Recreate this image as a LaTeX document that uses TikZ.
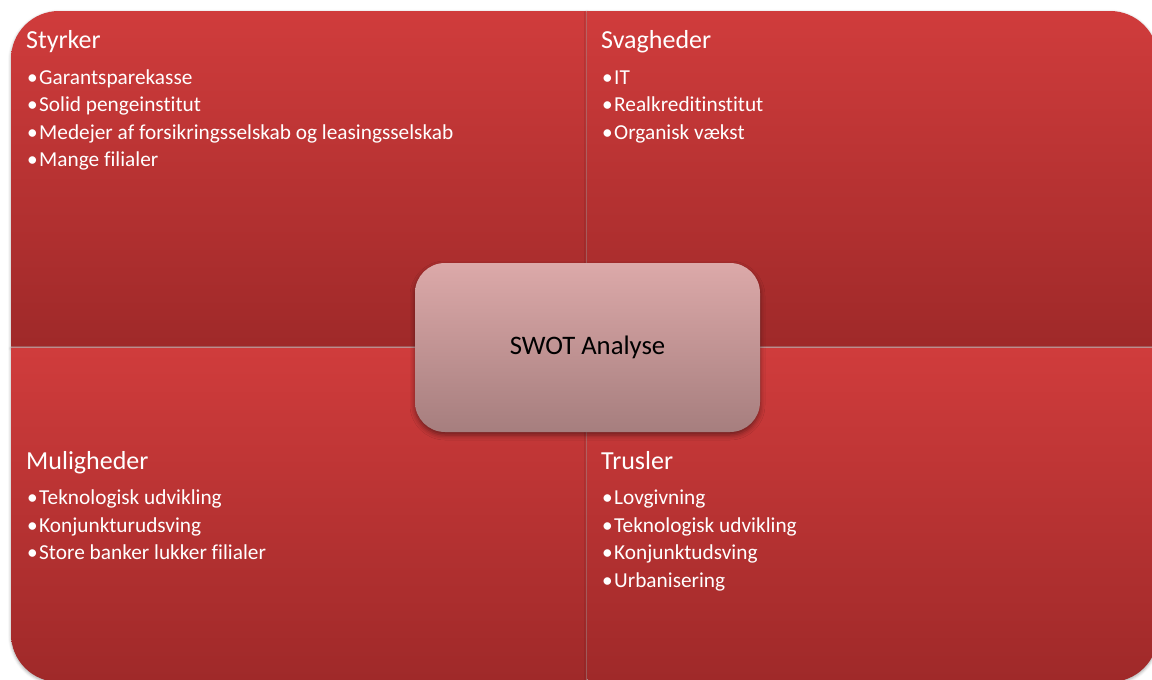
\documentclass[tikz,border=0pt]{standalone}
\usepackage{fontspec}
\setmainfont{Carlito}[RawFeature=-liga]
\usepackage{tikz}
\usetikzlibrary{shadows.blur}

\definecolor{quadtop}{RGB}{208,60,60}
\definecolor{quadbot}{RGB}{159,41,41}
\definecolor{hubtop}{RGB}{220,169,169}
\definecolor{hubbot}{RGB}{166,126,126}

\newcommand{\itembullet}{\makebox[12pt][l]{•}}

\begin{document}
\begin{tikzpicture}[
            x=1pt, y=-1pt,
        % Quadrants: red vertical gradient with a soft shadow.
            quad/.style={top color=quadtop, bottom color=quadbot,
            blur shadow={shadow xshift=0pt, shadow yshift=-1.5pt,
            shadow blur radius=3pt, shadow opacity=35}},
        % Centre box: pale rose gradient, rounded, lifted by a shadow.
            hub/.style={rounded corners=30pt, top color=hubtop, bottom color=hubbot,
            minimum width=345pt, minimum height=169pt, text=black,
            font=\fontsize{26.7}{32}\selectfont,
            blur shadow={shadow xshift=0pt, shadow yshift=-3pt,
            shadow blur radius=5pt, shadow opacity=45}},
            title/.style={anchor=base west, inner sep=0pt, text=white,
            font=\fontsize{26}{31}\selectfont},
            item/.style={anchor=base west, inner sep=0pt, text=white,
            font=\fontsize{21.3}{25}\selectfont}
        ]
            \useasboundingbox (0,0) rectangle (1152,680);

% --- quadrants, each with one rounded outer corner ---
            \path[quad] (11,346.5) [rounded corners=48pt] -- (11,11) [sharp corners] -- (586.5,11) -- (586.5,346.5) -- cycle;
            \path[quad] (587.5,11) [rounded corners=48pt] -- (1158,11) [sharp corners] -- (1158,346.5) -- (587.5,346.5) -- cycle;
            \path[quad] (586.5,347.5) -- (11,347.5) [rounded corners=48pt] -- (11,682) [sharp corners] -- (586.5,682) -- cycle;
            \path[quad] (587.5,347.5) -- (1158,347.5) [rounded corners=48pt] -- (1158,682) [sharp corners] -- (587.5,682) -- cycle;

% --- titles ---
            \node[title] (styrker)    at (26,48)  {Styrker};
            \node[title] (svagheder)  at (601,48) {Svagheder};
            \node[title] (muligheder) at (26,469) {Muligheder};
            \node[title] (trusler)    at (601,469) {Trusler};

% --- bullet lists ---
            \foreach \t [count=\i] in {Garantsparekasse, Solid pengeinstitut,
                Medejer af forsikringsselskab og leasingsselskab, Mange filialer}
                \node[item] (s\i) at ({27},{84+27.6*(\i-1)}) {\itembullet\t};
            \foreach \t [count=\i] in {IT, Realkreditinstitut, Organisk vækst}
                \node[item] (w\i) at ({602},{84+27.6*(\i-1)}) {\itembullet\t};
            \foreach \t [count=\i] in {Teknologisk udvikling, Konjunkturudsving,
                Store banker lukker filialer}
                \node[item] (o\i) at ({27},{504.5+27.6*(\i-1)}) {\itembullet\t};
            \foreach \t [count=\i] in {Lovgivning, Teknologisk udvikling,
                Konjunktudsving, Urbanisering}
                \node[item] (t\i) at ({602},{504.5+27.6*(\i-1)}) {\itembullet\t};

% --- centre ---
            \node[hub] (swot) at (587.5,347.5) {SWOT Analyse};
        \end{tikzpicture}
\end{document}
